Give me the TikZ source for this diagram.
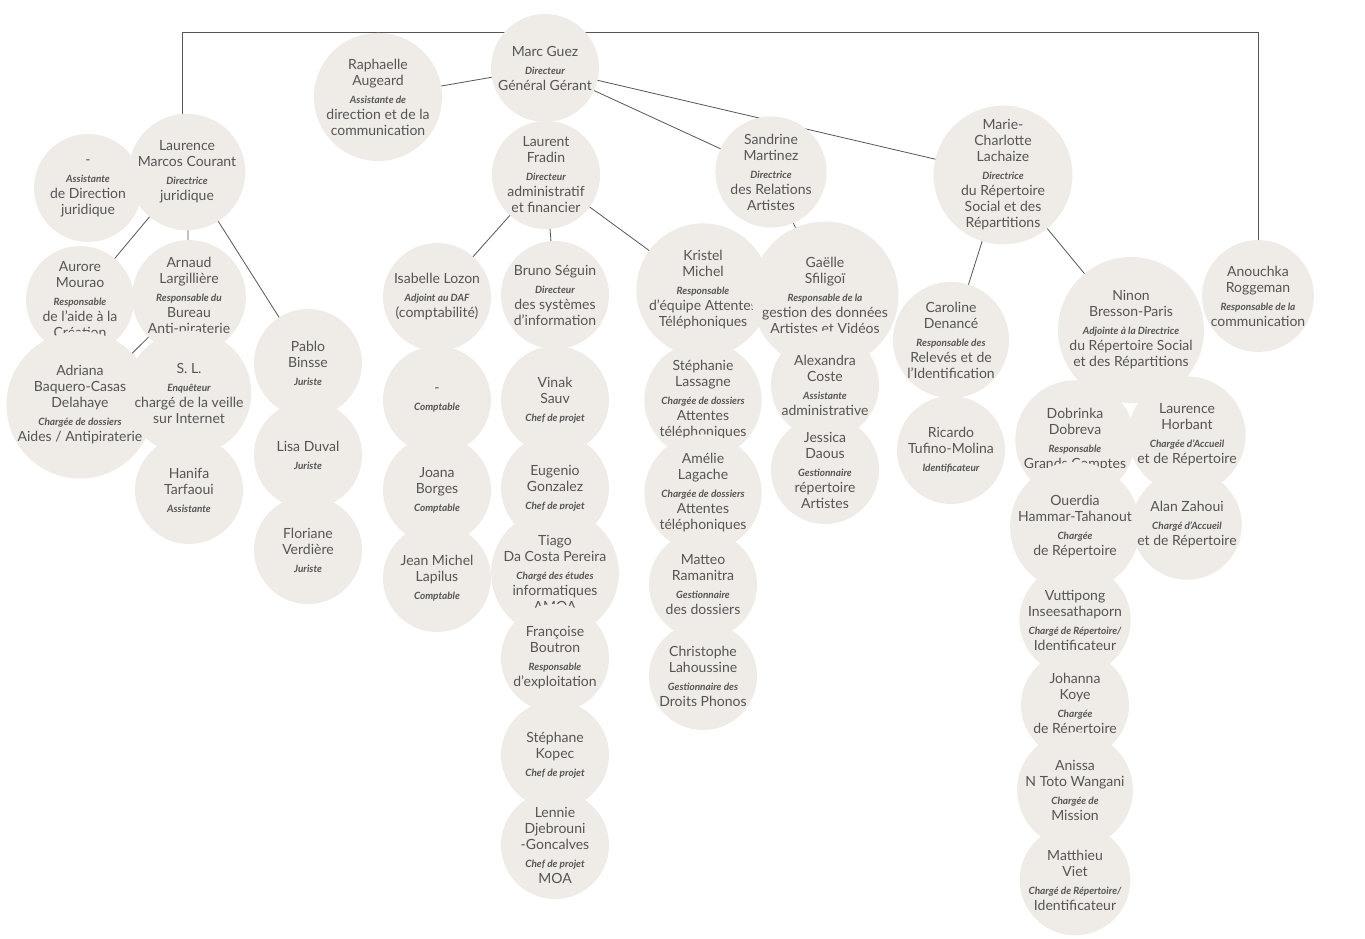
\documentclass[tikz,border=0pt]{standalone}
\usepackage{fontspec}
\setmainfont{Lato}
\definecolor{circ}{HTML}{EFEBE6}
\definecolor{txt}{HTML}{555555}
\definecolor{ln}{HTML}{555555}
\newcommand\NF{\fontsize{14}{16}\selectfont}
\newcommand\TF{\fontsize{10}{12.5}\selectfont\itshape\bfseries}
\newcommand\pp[2]{#1\\[2pt]\TF #2}
\pgfdeclarelayer{bg}\pgfsetlayers{bg,main}
\tikzset{p/.style={circle,fill=circ,minimum size=108pt,inner sep=0pt,align=center,text=txt,font=\NF},
edge/.style={draw=ln,line width=0.8pt}}
\begin{document}
\begin{tikzpicture}[x=1pt,y=-1pt]
\useasboundingbox (0,0) rectangle (1365,939);
\node[p] (marc) at (545,68) {\pp{Marc Guez}{Directeur\\Général Gérant}};
\node[p] (raph) at (378,97) {\pp{Raphaelle\\Augeard}{Assistante de\\direction et de la\\communication}};
\node[p] (lmc) at (187,172) {\pp{Laurence\\Marcos Courant}{Directrice\\juridique}};
\node[p] (ass) at (88,188) {\pp{-}{Assistante\\de Direction\\juridique}};
\node[p] (aur) at (80,300) {\pp{Aurore\\Mourao}{Responsable\\de l'aide à la\\Création}};
\node[p] (arn) at (189,297) {\pp{Arnaud\\Largillière}{Responsable du\\Bureau\\Anti-piraterie}};
\node[p] (adr) at (80,405) {\pp{Adriana\\Baquero-Casas\\Delahaye}{Chargée de dossiers\\Aides / Antipiraterie}};
\node[p] (sl) at (189,393) {\pp{S. L.}{Enquêteur\\chargé de la veille\\sur Internet}};
\node[p] (han) at (189,490) {\pp{Hanifa\\Tarfaoui}{Assistante}};
\node[p] (pab) at (308,363) {\pp{Pablo\\Binsse}{Juriste}};
\node[p] (lis) at (308,455) {\pp{Lisa Duval}{Juriste}};
\node[p] (flo) at (308,550) {\pp{Floriane\\Verdière}{Juriste}};
\node[p] (lau) at (546,175) {\pp{Laurent\\Fradin}{Directeur\\administratif\\et financier}};
\node[p] (isa) at (437,297) {\pp{Isabelle Lozon}{Adjoint au DAF\\(comptabilité)}};
\node[p] (cpt) at (437,400) {\pp{-}{Comptable}};
\node[p] (joa) at (437,490) {\pp{Joana\\Borges}{Comptable}};
\node[p] (jml) at (437,578) {\pp{Jean Michel\\Lapilus}{Comptable}};
\node[p] (bru) at (555,295) {\pp{Bruno Séguin}{Directeur\\des systèmes\\d'information}};
\node[p] (vin) at (555,400) {\pp{Vinak\\Sauv}{Chef de projet}};
\node[p] (eug) at (555,488) {\pp{Eugenio\\Gonzalez}{Chef de projet}};
\node[p] (tia) at (555,573) {\pp{Tiago\\Da Costa Pereira}{Chargé des études\\informatiques\\AMOA}};
\node[p] (fra) at (555,658) {\pp{Françoise\\Boutron}{Responsable\\d'exploitation}};
\node[p] (ste) at (555,755) {\pp{Stéphane\\Kopec}{Chef de projet}};
\node[p] (len) at (555,845) {\pp{Lennie\\Djebrouni\\-Goncalves}{Chef de projet\\MOA}};
\node[p] (kri) at (703,290) {\pp{Kristel\\Michel}{Responsable\\d'équipe Attentes\\Téléphoniques}};
\node[p] (sla) at (703,400) {\pp{Stéphanie\\Lassagne}{Chargée de dossiers\\Attentes\\téléphoniques}};
\node[p] (ame) at (703,493) {\pp{Amélie\\Lagache}{Chargée de dossiers\\Attentes\\téléphoniques}};
\node[p] (mat) at (703,585) {\pp{Matteo\\Ramanitra}{Gestionnaire\\des dossiers}};
\node[p] (chr) at (703,676) {\pp{Christophe\\Lahoussine}{Gestionnaire des\\Droits Phonos}};
\node[p] (san) at (771,172) {\pp{Sandrine\\Martinez}{Directrice\\des Relations\\Artistes}};
\node[p] (gae) at (825,295) {\pp{Gaëlle\\Sfiligoï}{Responsable de la\\gestion des données\\Artistes et Vidéos}};
\node[p] (ale) at (825,385) {\pp{Alexandra\\Coste}{Assistante\\administrative}};
\node[p] (jes) at (825,470) {\pp{Jessica\\Daous}{Gestionnaire\\répertoire\\Artistes}};
\node[p] (mcl) at (1003,175) {\pp{Marie-\\Charlotte\\Lachaize}{Directrice\\du Répertoire\\Social et des\\Répartitions}};
\node[p] (car) at (951,340) {\pp{Caroline\\Denancé}{Responsable des\\Relevés et de\\l'Identification}};
\node[p] (ric) at (951,450) {\pp{Ricardo\\Tufino-Molina}{Identificateur}};
\node[p] (nin) at (1131,330) {\pp{Ninon\\Bresson-Paris}{Adjointe à la Directrice\\du Répertoire Social\\et des Répartitions}};
\node[p] (dob) at (1075,440) {\pp{Dobrinka\\Dobreva}{Responsable\\Grands Comptes}};
\node[p] (lho) at (1187,435) {\pp{Laurence\\Horbant}{Chargée d'Accueil\\et de Répertoire}};
\node[p] (oue) at (1075,527) {\pp{Ouerdia\\Hammar-Tahanout}{Chargée\\de Répertoire}};
\node[p] (ala) at (1187,525) {\pp{Alan Zahoui}{Chargé d'Accueil\\et de Répertoire}};
\node[p] (vut) at (1075,620) {\pp{Vuttipong\\Inseesathaporn}{Chargé de Répertoire/\\Identificateur}};
\node[p] (joh) at (1075,705) {\pp{Johanna\\Koye}{Chargée\\de Répertoire}};
\node[p] (ani) at (1075,790) {\pp{Anissa\\N Toto Wangani}{Chargée de\\Mission}};
\node[p] (mtv) at (1075,880) {\pp{Matthieu\\Viet}{Chargé de Répertoire/\\Identificateur}};
\node[p] (ano) at (1258,296) {\pp{Anouchka\\Roggeman}{Responsable de la\\communication}};
\coordinate (bl) at (182,32);
\coordinate (br) at (1258,32);
\begin{pgfonlayer}{bg}
\draw[edge] (lmc.center -| bl) -- (bl) -- (br) -- (ano.center);
\foreach \a/\b in {marc/raph,marc/lau,marc/san,marc/mcl,lmc/aur,lmc/arn,lmc/pab,arn/adr,aur/adr,
lau/isa,lau/bru,lau/kri,isa/cpt,bru/vin,kri/sla,san/gae,mcl/car,mcl/nin,nin/dob,nin/lho}
  \draw[edge] (\a.center) -- (\b.center);
\end{pgfonlayer}
\end{tikzpicture}
\end{document}
